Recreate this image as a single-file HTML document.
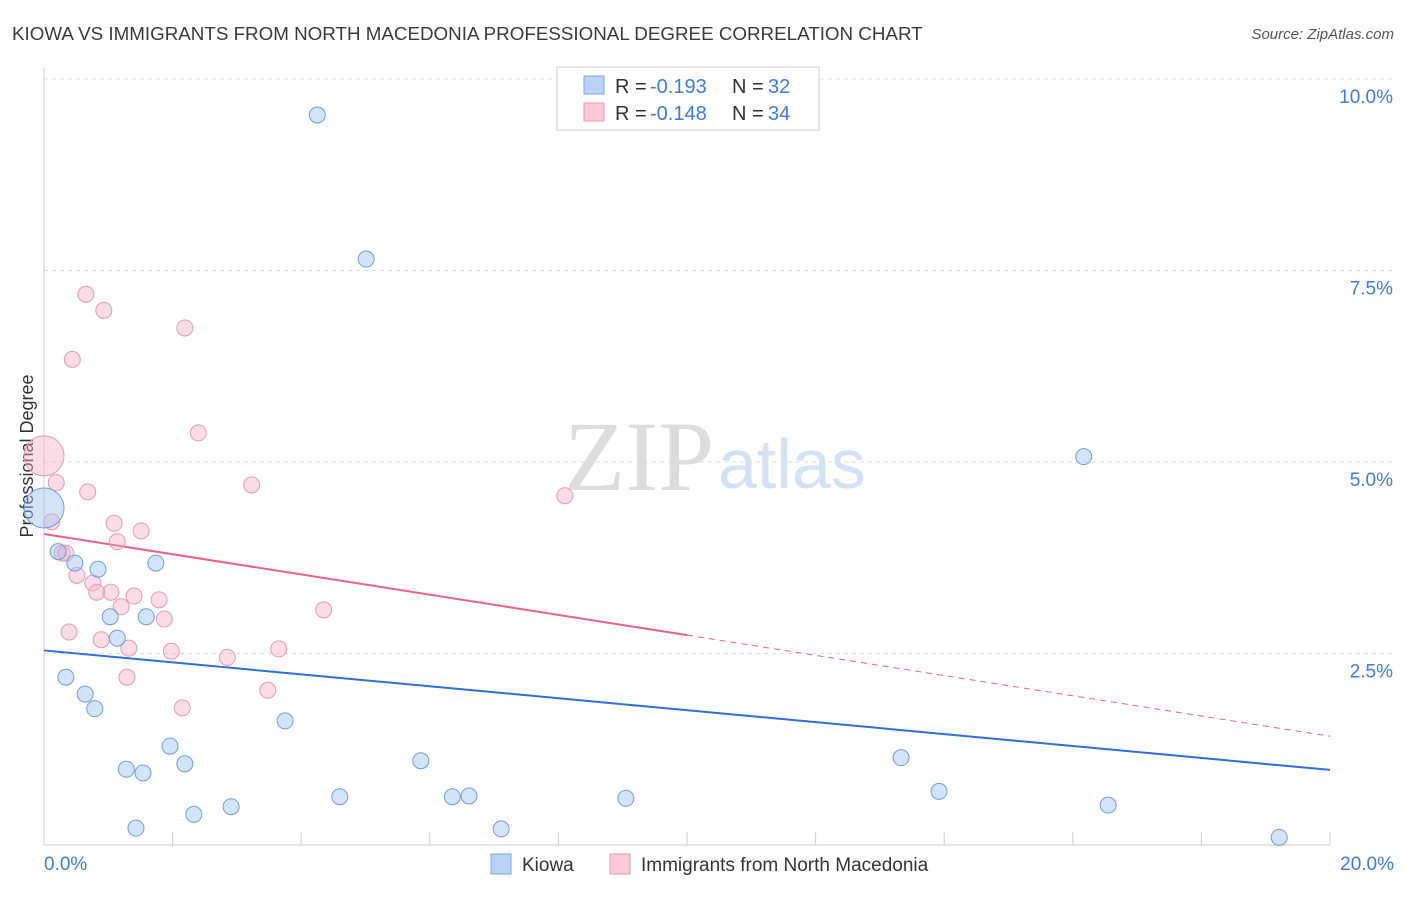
<!DOCTYPE html>
<html><head><meta charset="utf-8"><style>
body{margin:0;background:#fff;font-family:"Liberation Sans",sans-serif;}
</style></head><body>
<svg id="chart" width="1406" height="892" xmlns="http://www.w3.org/2000/svg" font-family="Liberation Sans, sans-serif">
<text x="12" y="40" font-size="18.8" fill="#3a3a3a">KIOWA VS IMMIGRANTS FROM NORTH MACEDONIA PROFESSIONAL DEGREE CORRELATION CHART</text>
<text x="1394" y="39" font-size="15" fill="#555" font-style="italic" text-anchor="end">Source: ZipAtlas.com</text>
<text x="714" y="490" font-size="100" fill="#ddd" text-anchor="end" font-family="Liberation Serif, serif">ZIP</text>
<text x="718" y="488" font-size="70" fill="#d3e2f5">atlas</text>
<text transform="translate(33,456) rotate(-90)" font-size="18" fill="#333" text-anchor="middle">Professional Degree</text>
<g id="grid"></g><g id="axes"></g><g id="lines"></g><g id="points"></g>
<g>
<rect x="557" y="67" width="262" height="63" fill="#fff" stroke="#ccc"/>
<rect x="584" y="76" width="20" height="18" fill="#b9d3f5" stroke="#7aa6e0"/>
<rect x="584" y="103" width="20" height="18" fill="#fcc9d8" stroke="#e899b3"/>
<text x="615" y="93" font-size="20" fill="#333">R =</text>
<text x="650" y="93" font-size="20" fill="#3f7bd9">-0.193</text>
<text x="732" y="93" font-size="20" fill="#333">N =</text>
<text x="768" y="93" font-size="20" fill="#3f7bd9">32</text>
<text x="615" y="120" font-size="20" fill="#333">R =</text>
<text x="650" y="120" font-size="20" fill="#3f7bd9">-0.148</text>
<text x="732" y="120" font-size="20" fill="#333">N =</text>
<text x="768" y="120" font-size="20" fill="#3f7bd9">34</text>
</g>
<g>
<rect x="491" y="854" width="20" height="20" fill="#b9d3f5" stroke="#7aa6e0"/>
<text x="522" y="871" font-size="19" fill="#333">Kiowa</text>
<rect x="610" y="854" width="20" height="20" fill="#fcc9d8" stroke="#e899b3"/>
<text x="641" y="871" font-size="19" fill="#333">Immigrants from North Macedonia</text>
</g>
</svg>
<script>
const yTicks=[2.5,5.0,7.5,10.0];
const yTickLabels=["2.5%","5.0%","7.5%","10.0%"];
const xEndLabels=["0.0%","20.0%"];
const kiowaX=[4.25,5.01,16.17,0,0.22,0.48,0.84,1.74,1.03,1.59,1.14,0.34,0.64,0.79,3.75,1.96,2.19,1.28,1.54,5.86,13.33,4.60,6.35,6.61,9.05,13.92,2.91,2.33,1.43,7.11,16.55,19.21];
const kiowaY=[9.53,7.65,5.07,4.40,3.83,3.68,3.60,3.68,2.98,2.98,2.70,2.19,1.97,1.78,1.62,1.29,1.06,0.99,0.94,1.10,1.14,0.63,0.63,0.64,0.61,0.70,0.50,0.40,0.22,0.21,0.52,0.10];
const macX=[0,0.65,0.93,0.44,2.19,2.40,0.19,0.68,3.23,8.10,0.12,1.09,1.51,1.14,0.28,0.34,0.51,0.76,0.82,1.04,1.40,1.20,1.79,1.87,4.35,0.39,0.89,1.32,1.98,2.85,3.65,1.29,3.48,2.15];
const macY=[5.08,7.19,6.98,6.34,6.75,5.38,4.73,4.61,4.70,4.56,4.22,4.20,4.10,3.96,3.81,3.81,3.52,3.42,3.30,3.30,3.25,3.11,3.20,2.95,3.07,2.78,2.68,2.57,2.53,2.45,2.56,2.19,2.02,1.79];
const kiowaTrend=[2.54,0.98];
const macTrend=[4.06,1.42];
const macSolidEnd=10;
const NS="http://www.w3.org/2000/svg";
const X=v=>44+v/20*1286, Y=v=>845-v/10*766;
function mk(tag,attrs,parent){const e=document.createElementNS(NS,tag);for(const k in attrs)e.setAttribute(k,attrs[k]);document.getElementById(parent).appendChild(e);return e;}
yTicks.forEach((t,i)=>{
 const g=mk('line',{x1:44,x2:1394,y1:Y(t),y2:Y(t),stroke:'#ddd','stroke-dasharray':'4,4'},'grid');
 
 
 const l=mk('text',{x:1393,y:Y(t)+24,'font-size':19,fill:'#3f7bd9','text-anchor':'end'},'grid');
 l.textContent=yTickLabels[i];
 
 
});
const ax=mk('line',{x1:44,x2:1330,y1:845,y2:845,stroke:'#ccc'},'axes');


const ay=mk('line',{x1:44,x2:44,y1:68,y2:845,stroke:'#ccc'},'axes');


for(let v=0;v<=20;v+=2){const t=mk('line',{x1:X(v),x2:X(v),y1:832,y2:845,stroke:'#ccc'},'axes');
 
 }
[[0,'start',44],[20,'end',1394]].forEach((a,i)=>{const t=mk('text',{x:a[2],y:870,'font-size':19,fill:'#3f7bd9','text-anchor':a[1]},'axes');t.textContent=xEndLabels[i];
 
 });
const bl=mk('line',{x1:X(0),y1:Y(kiowaTrend[0]),x2:X(20),y2:Y(kiowaTrend[1]),stroke:'#2f6fd6','stroke-width':2},'lines');


const pm=macTrend[0]+(macTrend[1]-macTrend[0])*macSolidEnd/20;
const pl=mk('line',{x1:X(0),y1:Y(macTrend[0]),x2:X(macSolidEnd),y2:Y(pm),stroke:'#e8628c','stroke-width':2},'lines');


const pd=mk('line',{x1:X(macSolidEnd),y1:Y(pm),x2:X(20),y2:Y(macTrend[1]),stroke:'#e8628c','stroke-width':1,'stroke-dasharray':'6,5'},'lines');


macX.forEach((x,i)=>{const c=mk('circle',{cx:X(x),cy:Y(macY[i]),r:i===0?20:8,fill:'rgba(245,175,198,0.42)',stroke:'#e899b3','stroke-width':1},'points');
 
 });
kiowaX.forEach((x,i)=>{const c=mk('circle',{cx:X(x),cy:Y(kiowaY[i]),r:i===3?20:8,fill:'rgba(160,195,240,0.45)',stroke:'#6e9edd','stroke-width':1},'points');
 
 });
</script>
</body></html>
